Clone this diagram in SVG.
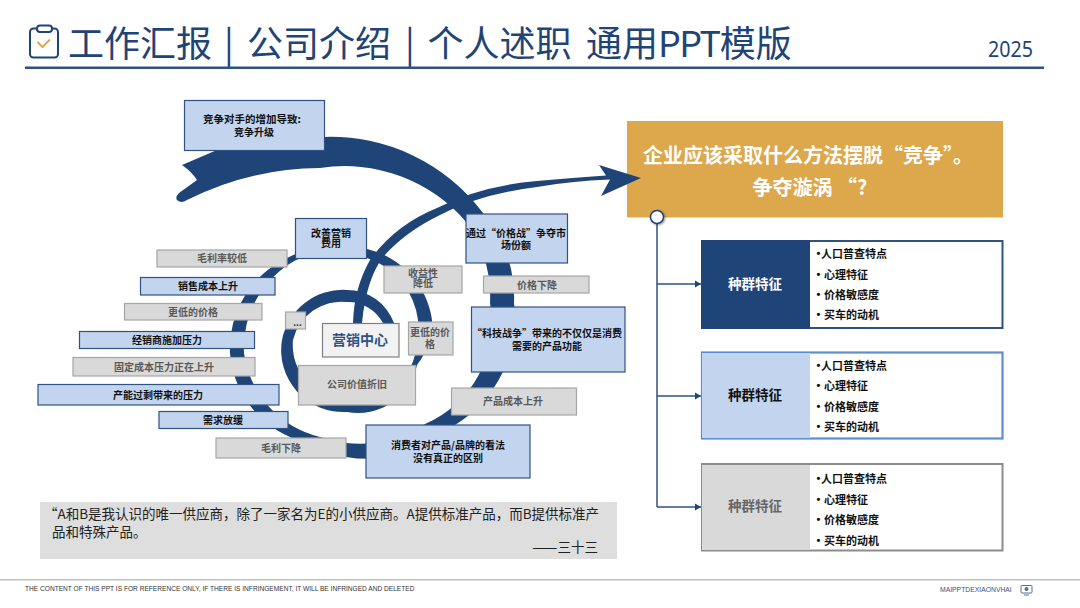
<svg xmlns="http://www.w3.org/2000/svg" width="1080" height="608" viewBox="0 0 1080 608">
<style>
text{font-family:"Noto Sans CJK SC","Liberation Sans",sans-serif;dominant-baseline:central;transform:translateY(-0.8px)}
.c{text-anchor:middle}
.b{font-size:10px;font-weight:700;fill:#111}
.g{font-size:10px;font-weight:700;fill:#595959}
.blue{fill:#C3D5EE;stroke:#2F5283;stroke-width:1.2}
.gray{fill:#D9D9D9;stroke:#A6A6A6;stroke-width:1.2}
.navy{fill:#1F4477}
.li{font-size:11px;font-weight:700;fill:#111}
.dot{font-family:"Liberation Sans",sans-serif}
.lab{font-size:13.5px;font-weight:700}
.wire{fill:none;stroke:#2F5283;stroke-width:1.5}
.q{font-size:13.5px;fill:#222}
.sans{font-family:"Liberation Sans",sans-serif}
</style>
<defs>
<marker id="ah" markerUnits="userSpaceOnUse" markerWidth="7" markerHeight="8" refX="6" refY="4" orient="auto"><path d="M0,0.5L6,4L0,7.5Z" fill="#1F4477"/></marker>
<filter id="sh" x="-50%" y="-50%" width="200%" height="200%"><feDropShadow dx="1" dy="1" stdDeviation="1" flood-opacity="0.4"/></filter>
</defs>
<rect width="1080" height="608" fill="#fff"/>

<g id="header">
<rect x="30" y="28.500" width="28" height="29" rx="3.500" fill="none" stroke="#1F4477" stroke-width="2"/>
<rect x="37" y="25.500" width="15" height="6.500" rx="3" fill="#fff" stroke="#1F4477" stroke-width="2"/>
<path d="M37.500,42L42.500,47L50,39.500" fill="none" stroke="#DDA74B" stroke-width="2"/>
<text y="42" font-size="36" fill="#1F4477"><tspan x="68">工作汇报 </tspan><tspan x="224">| </tspan><tspan x="247">公司介绍 </tspan><tspan x="405">| </tspan><tspan x="427.500">个人述职 </tspan><tspan x="586">通用</tspan><tspan letter-spacing="-1.500">PPT</tspan><tspan>模版</tspan></text>
<text x="988" y="49" style="font-family:'Noto Sans',sans-serif" font-size="22.500" fill="#1F4477" textLength="45" lengthAdjust="spacingAndGlyphs">2025</text>
<rect x="25" y="66.500" width="1019" height="2.500" fill="#2F5283"/>
</g>

<g id="n-question"><rect x="627" y="121" width="376" height="96.500" fill="#DDA74B"/><text class="c" x="808" y="155" font-size="20" font-weight="700" fill="#fff">企业应该采取什么方法摆脱“竞争”。</text><text class="c" x="810" y="187" font-size="20" font-weight="700" fill="#fff">争夺漩涡 “?</text></g>

<g id="connectors">
<path class="navy" d="M182,165L217,150A230,230 0 0 1 324,137A190,190 0 0 1 483,213A130,130 0 0 1 514,303A125,125 0 0 1 455,425A130,130 0 0 1 346,457A150,150 0 0 1 290,437A100,100 0 0 1 230,353A100,100 0 0 1 287,258A110,110 0 0 1 367,249A85,85 0 0 1 432,320A70,70 0 0 1 417,365A60,60 0 0 1 347,412A62,62 0 0 1 282,340A62,62 0 0 1 347,290A50,50 0 0 1 394,323L383,323A40,40 0 0 0 347,302A50,50 0 0 0 293,340A55,55 0 0 0 350,400A60,60 0 0 0 415,355A70,70 0 0 0 418,320A75,75 0 0 0 367,258A100,100 0 0 0 296,260A100,100 0 0 0 244,353A100,100 0 0 0 320,437A150,150 0 0 0 346,443A120,120 0 0 0 425,424A110,110 0 0 0 490,303A130,130 0 0 0 467,223A160,160 0 0 0 320,168A300,300 0 0 0 187,200Q181,204 177,200Q175,197 179,193L197,180Q192,172 182,165Z"/>
<path class="navy" d="M353,323Q354,288 370,260Q395,225 437,208Q480,186 537,181Q570,178 606,175.500L599,165L641,178L601,196L610,179.500Q570,181 537,187Q480,194 440,215Q405,232 383,257Q366,280 362,323Z"/>
<path class="wire" d="M657,224V507"/>
<path class="wire" marker-end="url(#ah)" d="M657,284H701"/>
<path class="wire" marker-end="url(#ah)" d="M657,396H701"/>
<path class="wire" marker-end="url(#ah)" d="M657,507H701"/>
</g>

<g id="n-competition"><rect class="blue" x="184.500" y="100.500" width="140" height="50"/><text class="b c" x="252" y="119" style="font-size:10.500px">竞争对手的增加导致:</text><text class="b c" x="254" y="132">竞争升级</text></g>
<g id="n-improve"><rect class="blue" x="295.500" y="218.500" width="71" height="40"/><text class="b c" x="331" y="233">改善营销</text><text class="b c" x="331" y="243">费用</text></g>
<g id="n-pricewar"><rect class="blue" x="466" y="214" width="101.500" height="49"/><text class="b c" x="516" y="233">通过“价格战”争夺市</text><text class="b c" x="516" y="245">场份额</text></g>
<g id="n-lowmargin"><rect class="gray" x="157" y="250" width="130" height="17"/><text class="g c" x="222" y="258.500">毛利率较低</text></g>
<g id="n-salescost"><rect class="blue" x="140.500" y="277.500" width="134.500" height="17.500"/><text class="b c" x="208" y="286">销售成本上升</text></g>
<g id="n-lowprice"><rect class="gray" x="124.500" y="303.500" width="137.500" height="16.500"/><text class="g c" x="193" y="312">更低的价格</text></g>
<g id="n-dealer"><rect class="blue" x="79.500" y="331.500" width="175" height="17"/><text class="b c" x="167" y="340">经销商施加压力</text></g>
<g id="n-fixedcost"><rect class="gray" x="73" y="357.500" width="182" height="18.500"/><text class="g c" x="164" y="367">固定成本压力正在上升</text></g>
<g id="n-overcap"><rect class="blue" x="38" y="384.500" width="241" height="20.500"/><text class="b c" x="158" y="395">产能过剩带来的压力</text></g>
<g id="n-demand"><rect class="blue" x="159" y="411.500" width="129" height="17"/><text class="b c" x="223" y="420">需求放缓</text></g>
<g id="n-grossdown"><rect class="gray" x="216" y="438" width="130" height="20"/><text class="g c" x="281" y="448">毛利下降</text></g>
<g id="n-yield"><rect class="gray" x="384" y="266" width="78" height="27"/><text class="g c" x="423" y="273">收益性</text><text class="g c" x="423" y="283">降低</text></g>
<g id="n-pricedown"><rect class="gray" x="483.500" y="276" width="105.500" height="17"/><text class="g c" x="537" y="285">价格下降</text></g>
<g id="n-tech"><rect class="blue" x="471.500" y="307" width="153.500" height="65"/><text class="b c" x="547" y="333">“科技战争”带来的不仅仅是消费</text><text class="b c" x="547" y="346">需要的产品功能</text></g>
<g id="n-lowprice2"><rect class="gray" x="408.500" y="322" width="44.500" height="33"/><text class="g c" x="430" y="332">更低的价</text><text class="g c" x="430" y="344">格</text></g>
<g id="n-center"><rect x="322.500" y="323.500" width="76.500" height="33.500" fill="#F2F2F2" stroke="#7F7F7F" stroke-width="1.2"/><text class="c" x="360" y="340" font-size="14" font-weight="700" fill="#2F5283">营销中心</text></g>
<g id="n-depreciation"><rect class="gray" x="298.500" y="365.500" width="117" height="39.500"/><text class="g c" x="357" y="384">公司价值折旧</text></g>
<g id="n-more"><rect class="gray" x="285.500" y="312" width="20" height="17"/><text class="g c sans" x="297.500" y="323" style="fill:#333">...</text></g>
<g id="n-productcost"><rect class="gray" x="451.500" y="388" width="125" height="27"/><text class="g c" x="513" y="401">产品成本上升</text></g>
<g id="n-perception"><rect class="blue" x="366" y="425" width="164" height="53"/><text class="b c" x="448" y="445">消费者对产品/品牌的看法</text><text class="b c" x="448" y="458">没有真正的区别</text></g>

<g id="n-dot"><circle cx="657" cy="217" r="6.500" fill="#fff" stroke="#1F4477" stroke-width="1.500" filter="url(#sh)"/></g>

<g id="n-panel1"><rect x="702" y="241" width="300.500" height="87" fill="#fff" stroke="#2F5283" stroke-width="2"/><rect x="701" y="240" width="109" height="89" fill="#1F4477"/><text class="lab c" x="755" y="284" fill="#fff">种群特征</text>
<text class="li" y="254"><tspan class="dot" x="816.500">•</tspan><tspan x="821">人口普查特点</tspan></text><text class="li" y="274.500"><tspan class="dot" x="816.500">•</tspan><tspan x="824">心理特征</tspan></text><text class="li" y="294.500"><tspan class="dot" x="816.500">•</tspan><tspan x="824">价格敏感度</tspan></text><text class="li" y="315"><tspan class="dot" x="816.500">•</tspan><tspan x="824">买车的动机</tspan></text></g>
<g id="n-panel2"><rect x="702" y="352.500" width="300.500" height="86" fill="#fff" stroke="#5B8FD0" stroke-width="2.200"/><rect x="702" y="353" width="108" height="85" fill="#C3D5EE"/><text class="lab c" x="755" y="395" fill="#111">种群特征</text>
<text class="li" y="366"><tspan class="dot" x="816.500">•</tspan><tspan x="821">人口普查特点</tspan></text><text class="li" y="386"><tspan class="dot" x="816.500">•</tspan><tspan x="824">心理特征</tspan></text><text class="li" y="407"><tspan class="dot" x="816.500">•</tspan><tspan x="824">价格敏感度</tspan></text><text class="li" y="427"><tspan class="dot" x="816.500">•</tspan><tspan x="824">买车的动机</tspan></text></g>
<g id="n-panel3"><rect x="702" y="464" width="300.500" height="86.500" fill="#fff" stroke="#8C8C8C" stroke-width="2"/><rect x="702" y="465" width="108" height="85" fill="#D9D9D9"/><text class="lab c" x="755" y="506" fill="#666">种群特征</text>
<text class="li" y="479"><tspan class="dot" x="816.500">•</tspan><tspan x="821">人口普查特点</tspan></text><text class="li" y="500"><tspan class="dot" x="816.500">•</tspan><tspan x="824">心理特征</tspan></text><text class="li" y="520"><tspan class="dot" x="816.500">•</tspan><tspan x="824">价格敏感度</tspan></text><text class="li" y="541"><tspan class="dot" x="816.500">•</tspan><tspan x="824">买车的动机</tspan></text></g>

<g id="n-quote"><rect x="40" y="502" width="577" height="57" fill="#DEDEDE"/>
<text class="q" x="44" y="514">“A和B是我认识的唯一供应商，除了一家名为E的小供应商。A提供标准产品，而B提供标准产</text>
<text class="q" x="52" y="532">品和特殊产品。</text>
<text class="q" x="598" y="547" text-anchor="end"><tspan font-size="15">——</tspan>三十三</text></g>

<g id="footer">
<rect x="0" y="579" width="1080" height="1.500" fill="#BFBFBF"/>
<text class="sans" x="25" y="589.500" font-size="6.600" fill="#333">THE CONTENT OF THIS PPT IS FOR REFERENCE ONLY, IF THERE IS INFRINGEMENT, IT WILL BE INFRINGED AND DELETED</text>
<text class="sans" x="940" y="590" font-size="6.800" fill="#2F5283">MAIPPTDEXIAONVHAI</text>
<rect x="1021" y="585.500" width="11" height="7.500" rx="1" fill="none" stroke="#5A6F8C" stroke-width="1"/><circle cx="1026.500" cy="589" r="2" fill="#5A6F8C"/><path d="M1024,595H1029" stroke="#5A6F8C" stroke-width="1"/>
</g>
</svg>
